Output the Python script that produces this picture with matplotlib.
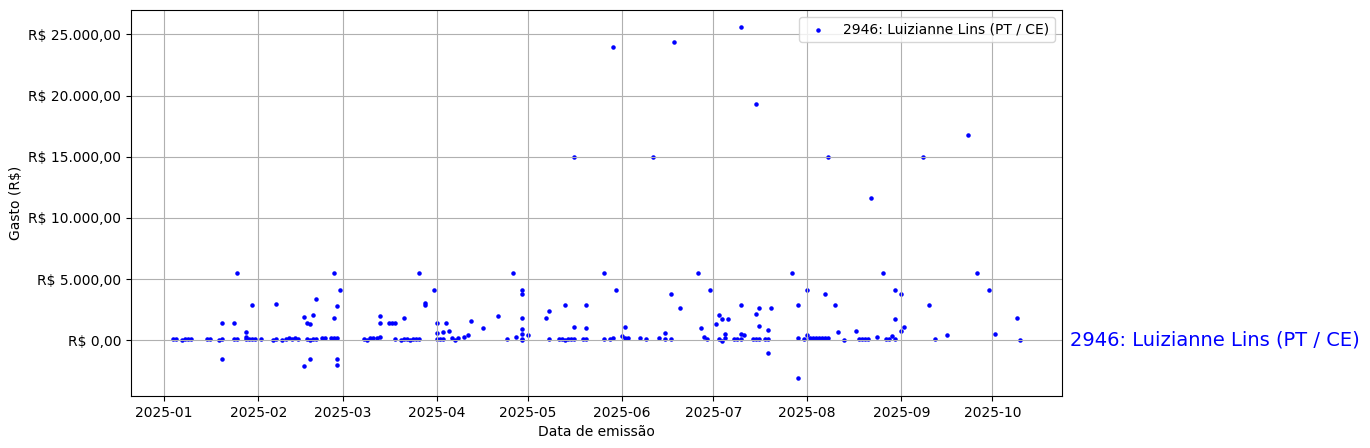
import pandas as pd
import matplotlib
matplotlib.use("Agg")
import matplotlib.pyplot as plt
import matplotlib.dates as mdates
import matplotlib.ticker as mticker
import matplotlib.transforms as mtransforms

# Deputado / legenda
deputado = "2946: Luizianne Lins (PT / CE)"

# Datas de emissão (2025) e gastos (R$)
datas = [
    "01-04", "01-05", "01-07", "01-08", "01-09", "01-10", "01-15", "01-16", "01-19",
    "01-20", "01-20", "01-20", "01-24", "01-24", "01-25", "01-25", "01-28", "01-28",
    "01-28", "01-29", "01-30", "01-30", "01-31",
    "02-02", "02-06", "02-07", "02-07", "02-09", "02-10", "02-11", "02-12", "02-13",
    "02-14", "02-16", "02-16", "02-17", "02-17", "02-18", "02-18", "02-18", "02-19",
    "02-19", "02-20", "02-20", "02-22", "02-23", "02-25", "02-26", "02-26", "02-26",
    "02-27", "02-27", "02-27", "02-27", "02-28",
    "03-08", "03-09", "03-10", "03-11", "03-12", "03-13", "03-13", "03-13", "03-16",
    "03-17", "03-18", "03-18", "03-20", "03-21", "03-21", "03-22", "03-23", "03-24",
    "03-25", "03-26", "03-26", "03-28", "03-28", "03-31",
    "04-01", "04-01", "04-01", "04-02", "04-03", "04-03", "04-04", "04-05", "04-06",
    "04-07", "04-08", "04-10", "04-11", "04-12", "04-16", "04-21", "04-24", "04-26",
    "04-27", "04-29", "04-29", "04-29", "04-29", "04-29", "04-29", "04-29",
    "05-01", "05-07", "05-08", "05-08", "05-11", "05-12", "05-13", "05-13", "05-14",
    "05-15", "05-16", "05-16", "05-16", "05-19", "05-20", "05-20", "05-20", "05-26",
    "05-26", "05-28", "05-29", "05-29", "05-30",
    "06-01", "06-02", "06-02", "06-03", "06-07", "06-09", "06-11", "06-13", "06-15",
    "06-15", "06-17", "06-17", "06-18", "06-20", "06-26", "06-27", "06-28", "06-29",
    "06-30",
    "07-02", "07-03", "07-03", "07-04", "07-04", "07-05", "07-05", "07-06", "07-08",
    "07-09", "07-10", "07-10", "07-10", "07-10", "07-11", "07-14", "07-15", "07-15",
    "07-15", "07-16", "07-16", "07-16", "07-18", "07-19", "07-19", "07-19", "07-20",
    "07-27", "07-29", "07-29", "07-29", "07-31",
    "08-01", "08-01", "08-02", "08-03", "08-04", "08-05", "08-06", "08-07", "08-07",
    "08-08", "08-08", "08-10", "08-11", "08-13", "08-17", "08-18", "08-19", "08-20",
    "08-21", "08-22", "08-24", "08-26", "08-27", "08-28", "08-29", "08-30", "08-30",
    "08-30",
    "09-01", "09-01", "09-02", "09-08", "09-10", "09-12", "09-16", "09-23", "09-26",
    "09-30",
    "10-02", "10-09", "10-10",
]

gastos = [
    120, 100, 20, 80, 80, 80, 100, 120, 10,
    1450, 80, -1560, 1450, 80, 80, 5500, 700, 270,
    80, 80, 2900, 80, 80,
    80, 20, 100, 2940, 0, 120, 150, 120, 150,
    130, 1930, -2070, 1440, 100, 1330, -1500, 20, 100,
    2090, 3350, 130, 150, 150, 150, 1850, 5500, 150,
    2830, -1500, -1990, 150, 4130,
    80, 0, 150, 180, 180, 2010, 1440, 230, 1440,
    1440, 1440, 130, 50, 1850, 80, 80, 30, 80,
    80, 5500, 80, 3070, 2910, 4130,
    1440, 630, 80, 80, 80, 700, 1440, 790, 160,
    0, 160, 300, 460, 1600, 1030, 2010, 80, 5500,
    300, 4130, 3810, 1850, 950, 540, 140, 0,
    460, 1850, 2420, 80, 80, 80, 2910, 0, 80,
    80, 1120, 15000, 80, 80, 2910, 1030, 80, 5500,
    80, 80, 220, 24000, 4130,
    380, 1120, 160, 160, 160, 80, 15000, 220, 630,
    80, 80, 3810, 24400, 2670, 5500, 1030, 300, 80,
    4130,
    1360, 80, 2090, 1770, -20, 540, 160, 1770, 80,
    80, 2910, 540, 25570, 80, 460, 80, 2180, 19300,
    80, 2670, 1200, 80, 80, 870, -1010, 80, 2670,
    5500, 160, 2910, -3120, 80,
    460, 4130, 160, 160, 160, 160, 160, 3810, 160,
    160, 15000, 2910, 700, 0, 790, 80, 80, 80,
    80, 11600, 250, 5500, 140, 140, 330, 4130, 1710,
    140,
    3810, 790, 1120, 15000, 2910, 80, 460, 16800, 5500,
    4130,
    540, 1850, 50,
]

df = pd.DataFrame({
    "data": pd.to_datetime(["2025-" + d for d in datas]),
    "gasto": gastos,
})


def formata_real(v, pos):
    s = f"{v:,.2f}".replace(",", "X").replace(".", ",").replace("X", ".")
    return "R$ " + s


fig = plt.figure(figsize=(13.7, 4.48), dpi=100)
ax = fig.add_axes([0.0956, 0.116, 0.6795, 0.862])

ax.scatter(df["data"], df["gasto"], s=5, color="blue", label=deputado)

ax.xaxis.set_major_locator(mdates.MonthLocator())
ax.xaxis.set_major_formatter(mdates.DateFormatter("%Y-%m"))
ax.yaxis.set_major_formatter(mticker.FuncFormatter(formata_real))
ax.yaxis.set_major_locator(mticker.MultipleLocator(5000))

ax.set_xlabel("Data de emissão")
ax.set_ylabel("Gasto (R$)")
ax.grid(True)
ax.legend(loc="upper right")

# nome do deputado ao lado do eixo, na altura do zero
trans = mtransforms.blended_transform_factory(ax.transAxes, ax.transData)
ax.text(1.009, 0, deputado, transform=trans, color="blue", fontsize=14,
        va="center", ha="left")

fig.savefig("out.png", dpi=100)
